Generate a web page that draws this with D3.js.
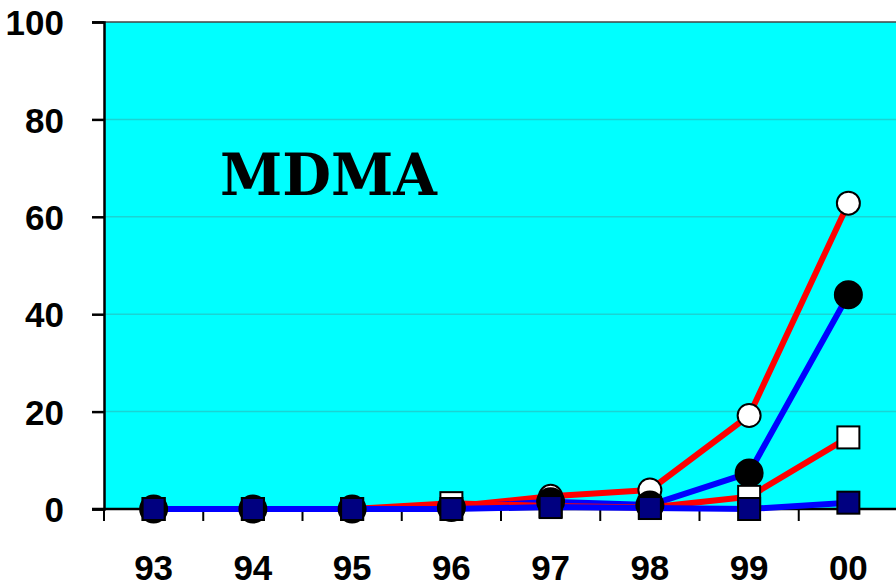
<!DOCTYPE html>
<html>
<head>
<meta charset="utf-8">
<script src="https://cdn.jsdelivr.net/npm/d3@7"></script>
<style>
  body { margin: 0; background: #fff; }
</style>
</head>
<body>
<div id="viz"></div>
<script>
// years on the x axis
const years = ["93", "94", "95", "96", "97", "98", "99", "00"]
const yTicks = [0, 20, 40, 60, 80, 100]

// four series
const openCircles = [0, 0, 0, 0.5, 2.6, 3.9, 19.2, 62.8]
const filledCircles = [0, 0, 0, 0.3, 1.5, 0.8, 7.4, 44]
const openSquares = [0, 0, 0, 1.2, 0.6, 0.3, 2.5, 14.7]
const navySquares = [0, 0, 0, 0, 0.4, 0.2, 0, 1.3]

const series = [
    { values: openCircles, line: "#ff0000", shape: "circle", fill: "#fff", r: 11.5 },
    { values: filledCircles, line: "#0000ff", shape: "circle", fill: "#000", r: 13.5 },
    { values: openSquares, line: "#ff0000", shape: "square", fill: "#fff", r: 11 },
    { values: navySquares, line: "#0000ff", shape: "square", fill: "#000080", r: 11 }
]

const width = 896
const height = 587
const margin = { top: 22, right: -2, bottom: 78, left: 104 }

const svg = d3.select("#viz").append("svg")
    .attr("width", width)
    .attr("height", height)

const x = d3.scaleBand()
    .domain(years)
    .range([margin.left, width - margin.right])

const y = d3.scaleLinear()
    .domain([0, 100])
    .range([height - margin.bottom, margin.top])

// plot background
svg.append("rect")
    .attr("x", margin.left)
    .attr("y", y(100))
    .attr("width", x.range()[1] - margin.left)
    .attr("height", y(0) - y(100))
    .attr("fill", "#00ffff")

// gridlines
svg.append("g")
    .selectAll("line")
    .data(yTicks.filter(d => d > 0 && d < 100))
    .enter()
    .append("line")
    .attr("x1", margin.left)
    .attr("x2", x.range()[1])
    .attr("y1", d => y(d))
    .attr("y2", d => y(d))
    .attr("stroke", "#1ad4d4")
    .attr("stroke-width", 1.5)

// top border
svg.append("line")
    .attr("x1", margin.left - 12)
    .attr("x2", x.range()[1])
    .attr("y1", y(100))
    .attr("y2", y(100))
    .attr("stroke", "#444")
    .attr("stroke-width", 1.5)

// y axis
const yAxis = svg.append("g")
    .attr("transform", `translate(${margin.left},0)`)
    .call(d3.axisLeft(y).tickValues(yTicks).tickSize(12).tickPadding(28))
yAxis.select(".domain").attr("stroke", "#000").attr("stroke-width", 2.5)
yAxis.selectAll(".tick line").attr("stroke", "#000").attr("stroke-width", 2.5)
yAxis.selectAll("text")
    .attr("font-family", "Liberation Sans, Arial, sans-serif")
    .attr("font-weight", "bold")
    .attr("font-size", 35)
    .attr("fill", "#000")
    .attr("dy", "0.36em")

// x axis with ticks on the band boundaries
const xAxisY = y(0)
svg.append("line")
    .attr("x1", margin.left - 12)
    .attr("x2", x.range()[1])
    .attr("y1", xAxisY)
    .attr("y2", xAxisY)
    .attr("stroke", "#000")
    .attr("stroke-width", 2.5)

svg.append("g")
    .selectAll("line")
    .data(years)
    .enter()
    .append("line")
    .attr("x1", d => x(d))
    .attr("x2", d => x(d))
    .attr("y1", xAxisY)
    .attr("y2", xAxisY + 12)
    .attr("stroke", "#000")
    .attr("stroke-width", 2)

svg.append("g")
    .selectAll("text")
    .data(years)
    .enter()
    .append("text")
    .attr("x", d => x(d) + x.bandwidth() / 2)
    .attr("y", 580)
    .attr("text-anchor", "middle")
    .attr("font-family", "Liberation Sans, Arial, sans-serif")
    .attr("font-weight", "bold")
    .attr("font-size", 35)
    .text(d => d)

// title inside the plot
svg.append("text")
    .attr("x", 220)
    .attr("y", 195)
    .attr("font-family", "DejaVu Serif, serif")
    .attr("font-weight", "bold")
    .attr("font-size", 58)
    .attr("textLength", 217)
    .attr("lengthAdjust", "spacingAndGlyphs")
    .text("MDMA")

const cx = d => x(d) + x.bandwidth() / 2
const line = d3.line()
    .x((v, i) => cx(years[i]))
    .y(v => y(v))

// all lines first
svg.append("g")
    .selectAll("path")
    .data(series)
    .enter()
    .append("path")
    .attr("d", s => line(s.values))
    .attr("fill", "none")
    .attr("stroke", s => s.line)
    .attr("stroke-width", 6)
    .attr("stroke-linejoin", "round")

// markers on top
series.forEach(s => {
    const g = svg.append("g")
    if (s.shape === "circle") {
        g.selectAll("circle")
            .data(s.values)
            .enter()
            .append("circle")
            .attr("cx", (v, i) => cx(years[i]))
            .attr("cy", v => y(v))
            .attr("r", s.r)
            .attr("fill", s.fill)
            .attr("stroke", "#000")
            .attr("stroke-width", 2)
    } else {
        g.selectAll("rect")
            .data(s.values)
            .enter()
            .append("rect")
            .attr("x", (v, i) => cx(years[i]) - s.r)
            .attr("y", v => y(v) - s.r)
            .attr("width", s.r * 2)
            .attr("height", s.r * 2)
            .attr("fill", s.fill)
            .attr("stroke", "#000")
            .attr("stroke-width", 2)
    }
})
</script>
</body>
</html>
